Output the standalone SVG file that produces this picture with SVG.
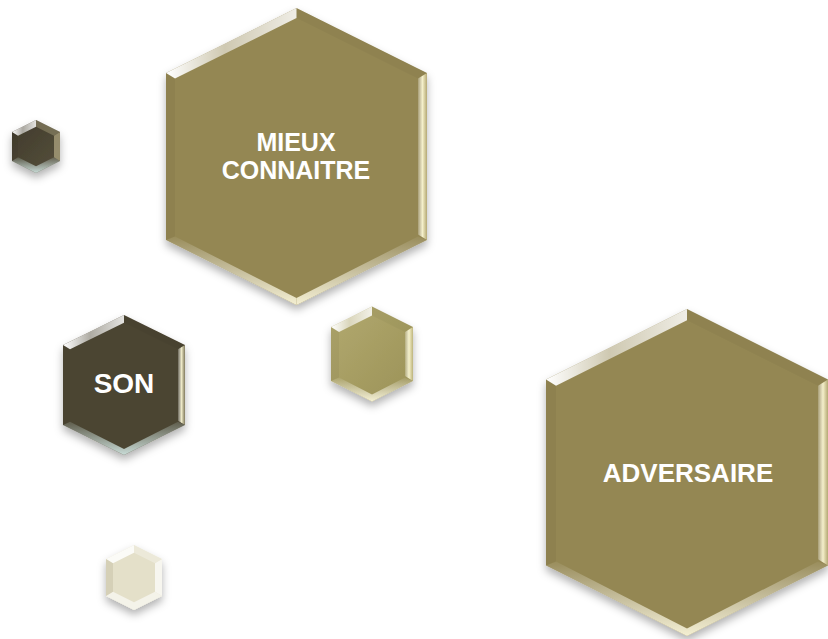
<svg xmlns="http://www.w3.org/2000/svg" width="828" height="639" viewBox="0 0 828 639">
<style>
.lbl{font-family:"Liberation Sans",Arial,sans-serif;font-weight:bold;fill:#ffffff;text-anchor:middle}
.tl{fill:url(#hlTL)}
.tr{fill:#000;fill-opacity:0.03}
.r{fill:url(#hlR)}
.b{fill:url(#hlB)}
.bb{fill:url(#hlBb)}
.l{fill:#000;fill-opacity:0.04}
</style>
<defs>
<filter id="sh" x="-20%" y="-20%" width="140%" height="150%">
<feDropShadow dx="0" dy="5" stdDeviation="4" flood-color="#000" flood-opacity="0.3"/>
</filter>
<linearGradient id="hlTL" x1="0" y1="0" x2="1" y2="0">
<stop offset="0" stop-color="#fff" stop-opacity="1"/>
<stop offset="0.45" stop-color="#fff" stop-opacity="0.55"/>
<stop offset="1" stop-color="#fff" stop-opacity="0.85"/>
</linearGradient>
<linearGradient id="hlR" x1="1" y1="0" x2="0" y2="0">
<stop offset="0" stop-color="#fff7c8" stop-opacity="0.3"/>
<stop offset="0.5" stop-color="#fffbd8" stop-opacity="0.9"/>
<stop offset="1" stop-color="#fff" stop-opacity="0.2"/>
</linearGradient>
<linearGradient id="hlB" x1="0" y1="0" x2="0" y2="1">
<stop offset="0" stop-color="#fff" stop-opacity="0.05"/>
<stop offset="1" stop-color="#fffbe0" stop-opacity="0.9"/>
</linearGradient>
<linearGradient id="hlBb" x1="0" y1="0" x2="0" y2="1">
<stop offset="0" stop-color="#cfe3df" stop-opacity="0.15"/>
<stop offset="1" stop-color="#cfe3df" stop-opacity="0.95"/>
</linearGradient>
<linearGradient id="faceSmall" x1="0" y1="0" x2="1" y2="1">
<stop offset="0" stop-color="#b2a96f"/>
<stop offset="1" stop-color="#9b9257"/>
</linearGradient>
<linearGradient id="faceDark" x1="0" y1="0" x2="1" y2="1">
<stop offset="0" stop-color="#3f3a2b"/>
<stop offset="1" stop-color="#57503c"/>
</linearGradient>
</defs>

<g id="tiny-dark">
<polygon points="36,120 60,132 60,161 36,173 12,161 12,132" fill="url(#faceDark)" filter="url(#sh)"/>
<polygon class="tl" points="12,132 36,120 36,126.7 18,135.7"/>
<polygon points="36,120 60,132 54,135.7 36,126.7" fill="#a99f7c" fill-opacity="0.45"/>
<polygon points="60,132 60,161 54,157.3 54,135.7" fill="#b3a985" fill-opacity="0.7"/>
<polygon class="bb" points="60,161 36,173 36,166.3 54,157.3"/>
<polygon class="bb" points="36,173 12,161 18,157.3 36,166.3"/>
<polygon class="l" points="12,161 12,132 18,135.7 18,157.3"/>
</g>

<g id="mieux">
<polygon points="296.5,8 427,73 427,240 296.5,305 166,240 166,73" fill="#948753" filter="url(#sh)"/>
<polygon class="tl" points="166,73 296.5,8 296.5,18.1 175,78.6"/>
<polygon class="tr" points="296.5,8 427,73 418,78.6 296.5,18.1"/>
<polygon class="r" points="427,73 427,240 418,234.4 418,78.6"/>
<polygon class="b" points="427,240 296.5,305 296.5,298 418,236.5"/>
<polygon class="b" points="296.5,305 166,240 175,236.5 296.5,298"/>
<polygon class="l" points="166,240 166,73 175,78.6 175,236.5"/>
<text class="lbl" font-size="25"><tspan x="296" y="150.5">MIEUX</tspan><tspan x="296" y="179">CONNAITRE</tspan></text>
</g>

<g id="son">
<polygon points="124,315 185,345 185,425 124,455 63,425 63,345" fill="#4b4431" filter="url(#sh)"/>
<polygon class="tl" points="63,345 124,315 124,322.8 70,349.3"/>
<polygon class="tr" points="124,315 185,345 178,349.3 124,322.8"/>
<polygon class="r" points="185,345 185,425 178,420.7 178,349.3"/>
<polygon class="bb" points="185,425 124,455 124,449 178,421.7"/>
<polygon class="bb" points="124,455 63,425 70,421.7 124,449"/>
<polygon class="l" points="63,425 63,345 70,349.3 70,421.7"/>
<text class="lbl" x="124" y="392.5" font-size="28">SON</text>
</g>

<g id="small-olive">
<polygon points="372,306.5 413,327 413,381 372,401.5 331,381 331,327" fill="url(#faceSmall)" filter="url(#sh)"/>
<polygon class="tl" points="331,327 372,306.5 372,315.4 339,331.9"/>
<polygon class="tr" points="372,306.5 413,327 405,331.9 372,315.4"/>
<polygon class="r" points="413,327 413,381 405,376.1 405,331.9"/>
<polygon class="b" points="413,381 372,401.5 372,394.6 405,377.5"/>
<polygon class="b" points="372,401.5 331,381 339,377.5 372,394.6"/>
<polygon class="l" points="331,381 331,327 339,331.9 339,377.5"/>
</g>

<g id="adversaire">
<polygon points="687,309 828,379.5 828,565.5 687,636 546,565.5 546,379.5" fill="#948753" filter="url(#sh)"/>
<polygon class="tl" points="546,379.5 687,309 687,320.2 556,385.7"/>
<polygon class="tr" points="687,309 828,379.5 818,385.7 687,320.2"/>
<polygon class="r" points="828,379.5 828,565.5 818,559.3 818,385.7"/>
<polygon class="b" points="828,565.5 687,636 687,628.5 818,561.5"/>
<polygon class="b" points="687,636 546,565.5 556,561.5 687,628.5"/>
<polygon class="l" points="546,565.5 546,379.5 556,385.7 556,561.5"/>
<text class="lbl" x="688" y="482" font-size="26">ADVERSAIRE</text>
</g>

<g id="tiny-cream">
<polygon points="134,545 162,559 162,596 134,610 106,596 106,559" fill="#e4e0c9" filter="url(#sh)"/>
<polygon points="106,559 134,545 134,552.8 113,563.3" fill="#fff" fill-opacity="0.85"/>
<polygon points="134,545 162,559 155,563.3 134,552.8" fill="#fff" fill-opacity="0.3"/>
<polygon points="162,559 162,596 155,591.7 155,563.3" fill="#fff" fill-opacity="0.7"/>
<polygon points="162,596 134,610 134,602.2 155,591.7" fill="#fff" fill-opacity="0.6"/>
<polygon points="134,610 106,596 113,591.7 134,602.2" fill="#fff" fill-opacity="0.6"/>
<polygon points="106,596 106,559 113,563.3 113,591.7" fill="#b9b394" fill-opacity="0.35"/>
</g>

<g id="connectors"></g>
</svg>
